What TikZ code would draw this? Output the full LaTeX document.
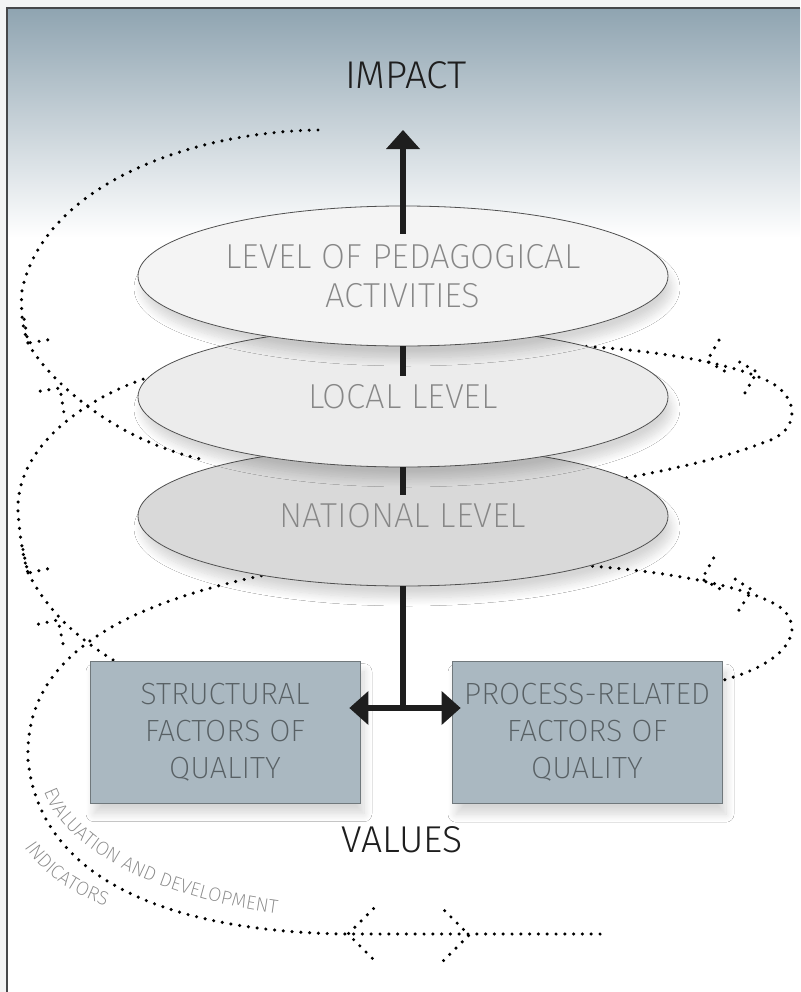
\documentclass[tikz,border=0pt]{standalone}
\usepackage{fontspec}
\setmainfont{Fira Sans Light}
\newfontfamily\thinfont{Fira Sans ExtraLight}
\usetikzlibrary{shapes.geometric,decorations.text,shadows.blur}
\tikzset{every picture/.style={line width=0.75pt}}

\definecolor{outergray}{RGB}{243,244,244}
\definecolor{framedark}{RGB}{70,72,74}
\definecolor{bgtop}{RGB}{143,164,177}
\definecolor{pedfill}{RGB}{244,244,244}
\definecolor{locfill}{RGB}{236,236,236}
\definecolor{natfill}{RGB}{217,217,217}
\definecolor{boxfill}{RGB}{170,184,193}
\definecolor{boxline}{RGB}{112,120,124}
\definecolor{labelgray}{RGB}{135,135,135}
\definecolor{boxtext}{RGB}{88,96,100}
\definecolor{textdark}{RGB}{30,30,30}

\tikzset{
  level/.style={ellipse, draw={rgb,255:red,80;green,80;blue,80}, line width=0.6pt,
    minimum width=397.5pt, minimum height=105pt, inner sep=0pt, align=center,
    font=\thinfont\fontsize{26}{29}\selectfont, text=labelgray,
    blur shadow={shadow xshift=3pt, shadow yshift=-9pt, shadow opacity=16, shadow blur radius=6pt, shadow blur steps=12}},
  factor/.style={rectangle, draw=boxline, fill=boxfill, line width=0.6pt,
    minimum width=202.5pt, minimum height=106.5pt, inner sep=0pt, align=center,
    font=\thinfont\fontsize{23}{27.75}\selectfont, text=boxtext,
    blur shadow={shadow xshift=3pt, shadow yshift=-8pt, shadow opacity=16, shadow blur radius=6pt, shadow blur steps=12}},
  dotline/.style={line width=2.6pt, line cap=round, dash pattern=on 0pt off 6.6pt},
  bar/.style={line width=4.5pt, draw=textdark},
  dothead/.pic={\draw[dotline] (-17,-17) -- (0,0) -- (-17,17);}
}

\begin{document}
\begin{tikzpicture}[x=0.75pt,y=0.75pt,yscale=-1,xscale=1]
\useasboundingbox (0,0) rectangle (800,992);

%Shape: Rectangle [page and frame]
\fill[outergray] (0,0) rectangle (800,992);
\fill[white] (7,8) rectangle (800,992);
\shade[top color=bgtop, bottom color=white] (7,8) rectangle (800,238);
\draw[line width=1.2pt, framedark] (7,992) -- (7,8) -- (800,8);

%Curve Lines [spiral, upper left]
\draw[dotline] (318,130) .. controls (190,132) and (45,185) .. (22,290) .. controls (20,315) and (24,332) .. (28,343);
\draw[dotline] (28,343) .. controls (45,375) and (110,440) .. (205,460);
\pic[rotate=234] at (28,343) {dothead};
\pic[rotate=54] at (60,388) {dothead};
%Curve Lines [spiral, upper right]
\draw[dotline] (560,345) .. controls (650,349) and (730,362) .. (770,382) .. controls (800,398) and (800,432) .. (765,442) .. controls (730,456) and (680,468) .. (615,480);
\pic[rotate=195] at (707,361) {dothead};
\pic[rotate=15] at (757,372) {dothead};
%Curve Lines [spiral, lower left]
\draw[dotline] (160,374) .. controls (100,390) and (15,440) .. (18,512) .. controls (20,540) and (24,560) .. (28,573);
\draw[dotline] (28,573) .. controls (45,605) and (70,635) .. (120,664);
\pic[rotate=237] at (28,573) {dothead};
\pic[rotate=57] at (58,620) {dothead};
%Curve Lines [spiral, lower right]
\draw[dotline] (575,565) .. controls (660,570) and (740,585) .. (775,604) .. controls (805,620) and (800,660) .. (720,681);
\pic[rotate=196] at (702,579) {dothead};
\pic[rotate=12] at (752,590) {dothead};
%Curve Lines [spiral, bottom]
\draw[dotline] (600,934) -- (348,934) .. controls (170,932) and (40,880) .. (28,760) .. controls (25,680) and (80,610) .. (280,572);
\pic[rotate=180, scale=1.5] at (348,934) {dothead};
\pic[rotate=0, scale=1.5] at (469,935) {dothead};

% Text along the spiral
\path[decorate, decoration={text along path, text align=left,
  text={|\thinfont\fontsize{14.5}{17}\selectfont\color{labelgray}|EVALUATION AND DEVELOPMENT}}]
  (44,791) .. controls (71,864) and (191,906) .. (300,916);
\path[decorate, decoration={text along path, text align=left,
  text={|\thinfont\fontsize{14.5}{17}\selectfont\color{labelgray}|INDICATORS}}]
  (25,847) .. controls (45,877) and (78,901) .. (140,917);

%Shape: Ellipse [levels]
\node[level, fill=natfill] (nat) at (403,516) {NATIONAL LEVEL};
\node[level, fill=locfill] (loc) at (403,397) {LOCAL LEVEL};
\node[level, fill=pedfill] (ped) at (403,276) {LEVEL OF PEDAGOGICAL\\ACTIVITIES};

%Shape: Rectangle [factors]
\node[factor] (struct) at (225,732) {STRUCTURAL\\FACTORS OF\\QUALITY};
\node[factor] (proc) at (587,732.5) {PROCESS-RELATED\\FACTORS OF\\QUALITY};

% Text Node
\node[font=\fontsize{29}{32}\selectfont, text=textdark] (impact) at (406,75) {IMPACT};
% Text Node
\node[font=\fontsize{28}{32}\selectfont, text=textdark] (values) at (402,840) {VALUES};

%Straight Lines [axis]
\coordinate (impacttip) at (403,130);
\coordinate (tee) at (403,708);
\coordinate (ltip) at ([xshift=-8.25pt]struct.east |- tee);
\coordinate (rtip) at ([xshift=6.75pt]proc.west |- tee);
\draw[bar] ([yshift=21pt]ped.north) -- ([yshift=10pt]impacttip);
\fill [textdark, shift={(impacttip)}, rotate = 270] (0,0) -- (-19,-17) -- (-19,17) -- cycle;
\draw[bar] (ped.south) -- ([yshift=22pt]ped.south);
\draw[bar] (loc.south) -- ([yshift=21pt]loc.south);
\draw[bar] (nat.south) -- (tee);
\draw[bar] ([xshift=10pt]ltip) -- ([xshift=-10pt]rtip);
\fill [textdark, shift={(ltip)}, rotate = 180] (0,0) -- (-19,-17) -- (-19,17) -- cycle;
\fill [textdark, shift={(rtip)}, rotate = 0] (0,0) -- (-19,-17) -- (-19,17) -- cycle;

\end{tikzpicture}
\end{document}
